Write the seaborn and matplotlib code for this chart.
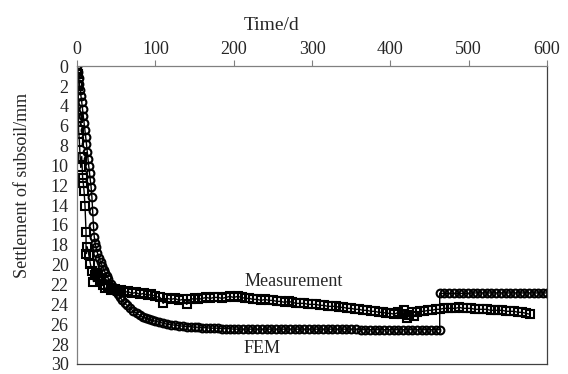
import matplotlib
matplotlib.use("Agg")
import matplotlib.pyplot as plt
import seaborn as sns
import pandas as pd

# FEM series (circles) - time in days, settlement in mm
fem_time = [0, 1, 2, 3, 4, 5, 6, 7, 8, 9, 10, 11, 12, 13, 14, 15, 16, 17, 18, 19,
            20, 21, 22, 23, 24, 26, 28, 30, 32, 34, 36, 38, 40, 43, 46, 49, 52, 55,
            58, 61, 64, 68, 72, 76, 80, 84, 88, 92, 96, 100,
            105, 110, 115, 120, 125, 130, 135, 140, 145, 150, 155, 160, 165, 170,
            175, 180, 185, 190, 195, 200,
            206, 212, 218, 224, 230, 236, 242, 248, 254, 260, 266, 272, 278, 284,
            290, 296, 302, 308, 314, 320, 326, 332, 338, 344, 350, 356, 362, 368,
            374, 380, 386, 392, 398, 404, 410, 416, 422, 428, 434, 440, 446, 452,
            458, 463,
            463, 469, 475, 481, 487, 493, 499, 505, 511, 517, 523, 529, 535, 541,
            547, 553, 559, 565, 571, 577, 583, 589, 595, 600]
fem_settle = [0, 0.6, 1.2, 1.8, 2.4, 3.0, 3.6, 4.3, 5.0, 5.7, 6.4, 7.1, 7.8, 8.6,
              9.4, 10.1, 10.8, 11.5, 12.2, 13.2, 14.6, 16.1, 17.2, 17.8, 18.2,
              18.8, 19.3, 19.7, 20.1, 20.5, 20.8, 21.1, 21.4, 21.9, 22.3, 22.7,
              23.0, 23.3, 23.6, 23.9, 24.1, 24.4, 24.7, 24.9, 25.1, 25.3, 25.4,
              25.5, 25.6, 25.7,
              25.8, 25.9, 26.0, 26.05, 26.1, 26.15, 26.2, 26.25, 26.25, 26.3,
              26.3, 26.35, 26.35, 26.4, 26.4, 26.4, 26.45, 26.45, 26.45, 26.5,
              26.5, 26.5, 26.5, 26.5, 26.5, 26.5, 26.5, 26.5, 26.5, 26.5, 26.5,
              26.5, 26.5, 26.5, 26.5, 26.5, 26.5, 26.5, 26.5, 26.5, 26.5, 26.5,
              26.5, 26.5, 26.5, 26.5, 26.55, 26.55, 26.55, 26.55, 26.55, 26.55,
              26.55, 26.55, 26.55, 26.55, 26.55, 26.55, 26.55, 26.55, 26.55,
              26.55, 26.55, 26.55,
              22.9, 22.9, 22.9, 22.9, 22.9, 22.9, 22.9, 22.85, 22.85, 22.85,
              22.85, 22.85, 22.85, 22.85, 22.85, 22.85, 22.85, 22.85, 22.85,
              22.85, 22.85, 22.85, 22.85, 22.85]

# Measurement series (squares)
meas_time = [0, 0.5, 1, 1.5, 1.7, 2, 3, 4.7, 6, 7.2, 8, 9, 10.2, 11.5, 11.5, 13,
             15, 17, 19, 21, 23, 25, 27, 29, 31, 33, 36, 40, 44, 48, 52, 56, 60,
             65, 70, 75, 80, 85, 90, 95, 100, 106, 110, 115, 120, 125, 130, 135,
             140, 145, 150, 155, 160, 165, 170, 175, 180, 185, 190, 195, 200, 205,
             210, 215, 220, 225, 230, 235, 240, 245, 250, 255, 260, 265, 270, 275,
             280, 285, 290, 295, 300, 305, 310, 315, 320, 325, 330, 335, 340, 345,
             350, 355, 360, 365, 370, 375, 380, 385, 390, 395, 400, 405, 410, 415,
             418, 421, 424, 427, 430, 434, 438, 443, 448, 453, 458, 463, 468, 473,
             478, 483, 488, 493, 498, 503, 508, 513, 518, 523, 528, 533, 538, 543,
             548, 553, 558, 563, 568, 573, 578]
meas_settle = [0, 0.3, 0.8, 2.0, 5.2, 6.4, 7.6, 10.2, 9.1, 11.3, 11.8, 12.6, 14.1,
               16.7, 18.9, 18.2, 19.0, 19.9, 20.6, 21.7, 21.0, 20.8, 21.2, 21.6,
               21.4, 22.0, 22.4, 22.3, 22.6, 22.5, 22.7, 22.6, 22.8, 22.7, 22.9,
               22.8, 23.0, 22.9, 23.1, 23.0, 23.2, 23.3, 23.9, 23.4, 23.5, 23.4,
               23.6, 23.5, 24.0, 23.5, 23.4, 23.5, 23.4, 23.3, 23.4, 23.3, 23.3,
               23.4, 23.3, 23.2, 23.3, 23.2, 23.3, 23.4, 23.4, 23.5, 23.5, 23.6,
               23.5, 23.6, 23.6, 23.7, 23.7, 23.8, 23.7, 23.8, 23.9, 23.9, 23.9,
               24.0, 24.0, 24.0, 24.1, 24.1, 24.2, 24.2, 24.2, 24.3, 24.3, 24.4,
               24.4, 24.5, 24.5, 24.6, 24.6, 24.7, 24.7, 24.8, 24.8, 24.9, 24.9,
               25.0, 24.8, 25.0, 24.6, 25.4, 25.1, 24.8, 25.2, 24.8, 24.7, 24.7,
               24.6, 24.6, 24.5, 24.5, 24.4, 24.4, 24.4, 24.4, 24.3, 24.4, 24.4,
               24.4, 24.5, 24.5, 24.5, 24.5, 24.6, 24.6, 24.6, 24.6, 24.7, 24.7,
               24.7, 24.8, 24.8, 24.9, 25.0]

x_ticks = [0, 100, 200, 300, 400, 500, 600]
y_ticks = list(range(0, 31, 2))

sns.set_style("white")
plt.rcParams['font.family'] = ['Liberation Serif', 'DejaVu Serif']
plt.rcParams['font.size'] = 13

fem_df = pd.DataFrame({'time': fem_time, 'settlement': fem_settle})
meas_df = pd.DataFrame({'time': meas_time, 'settlement': meas_settle})

fig = plt.figure(figsize=(5.68, 3.74), dpi=100)
ax = fig.add_axes([0.1356, 0.027, 0.8275, 0.796])

sns.lineplot(data=fem_df, x='time', y='settlement', sort=False, estimator=None,
             color='black', lw=1.0, marker='o', markersize=5.6,
             markerfacecolor='none', markeredgecolor='black', markeredgewidth=1.5,
             ax=ax)
sns.lineplot(data=meas_df, x='time', y='settlement', sort=False, estimator=None,
             color='black', lw=1.0, marker='s', markersize=5.8,
             markerfacecolor='none', markeredgecolor='black', markeredgewidth=1.5,
             ax=ax)

ax.set_xlim(0, 600)
ax.set_ylim(30, 0)
ax.set_xticks(x_ticks)
ax.set_yticks(y_ticks)
ax.xaxis.tick_top()
ax.xaxis.set_label_position('top')
ax.tick_params(axis='x', direction='out', length=4, width=0.8, color='#808080',
               labelsize=13, pad=2)
ax.tick_params(axis='y', direction='out', length=4, width=0.8, color='#808080',
               labelsize=13, pad=2)

ax.set_xlabel('Time/d', fontsize=14)
ax.set_ylabel('Settlement of subsoil/mm', fontsize=13)
ax.xaxis.set_label_coords(0.413, 1.12)
ax.yaxis.set_label_coords(-0.098, 0.6)

for side in ['left', 'top']:
    ax.spines[side].set_color('#808080')
    ax.spines[side].set_linewidth(0.9)
for side in ['right', 'bottom']:
    ax.spines[side].set_color('#404040')
    ax.spines[side].set_linewidth(0.9)

ax.text(276, 21.7, 'Measurement', ha='center', va='center', fontsize=13)
ax.text(236, 28.4, 'FEM', ha='center', va='center', fontsize=13)

fig.savefig('out.png', dpi=100)
